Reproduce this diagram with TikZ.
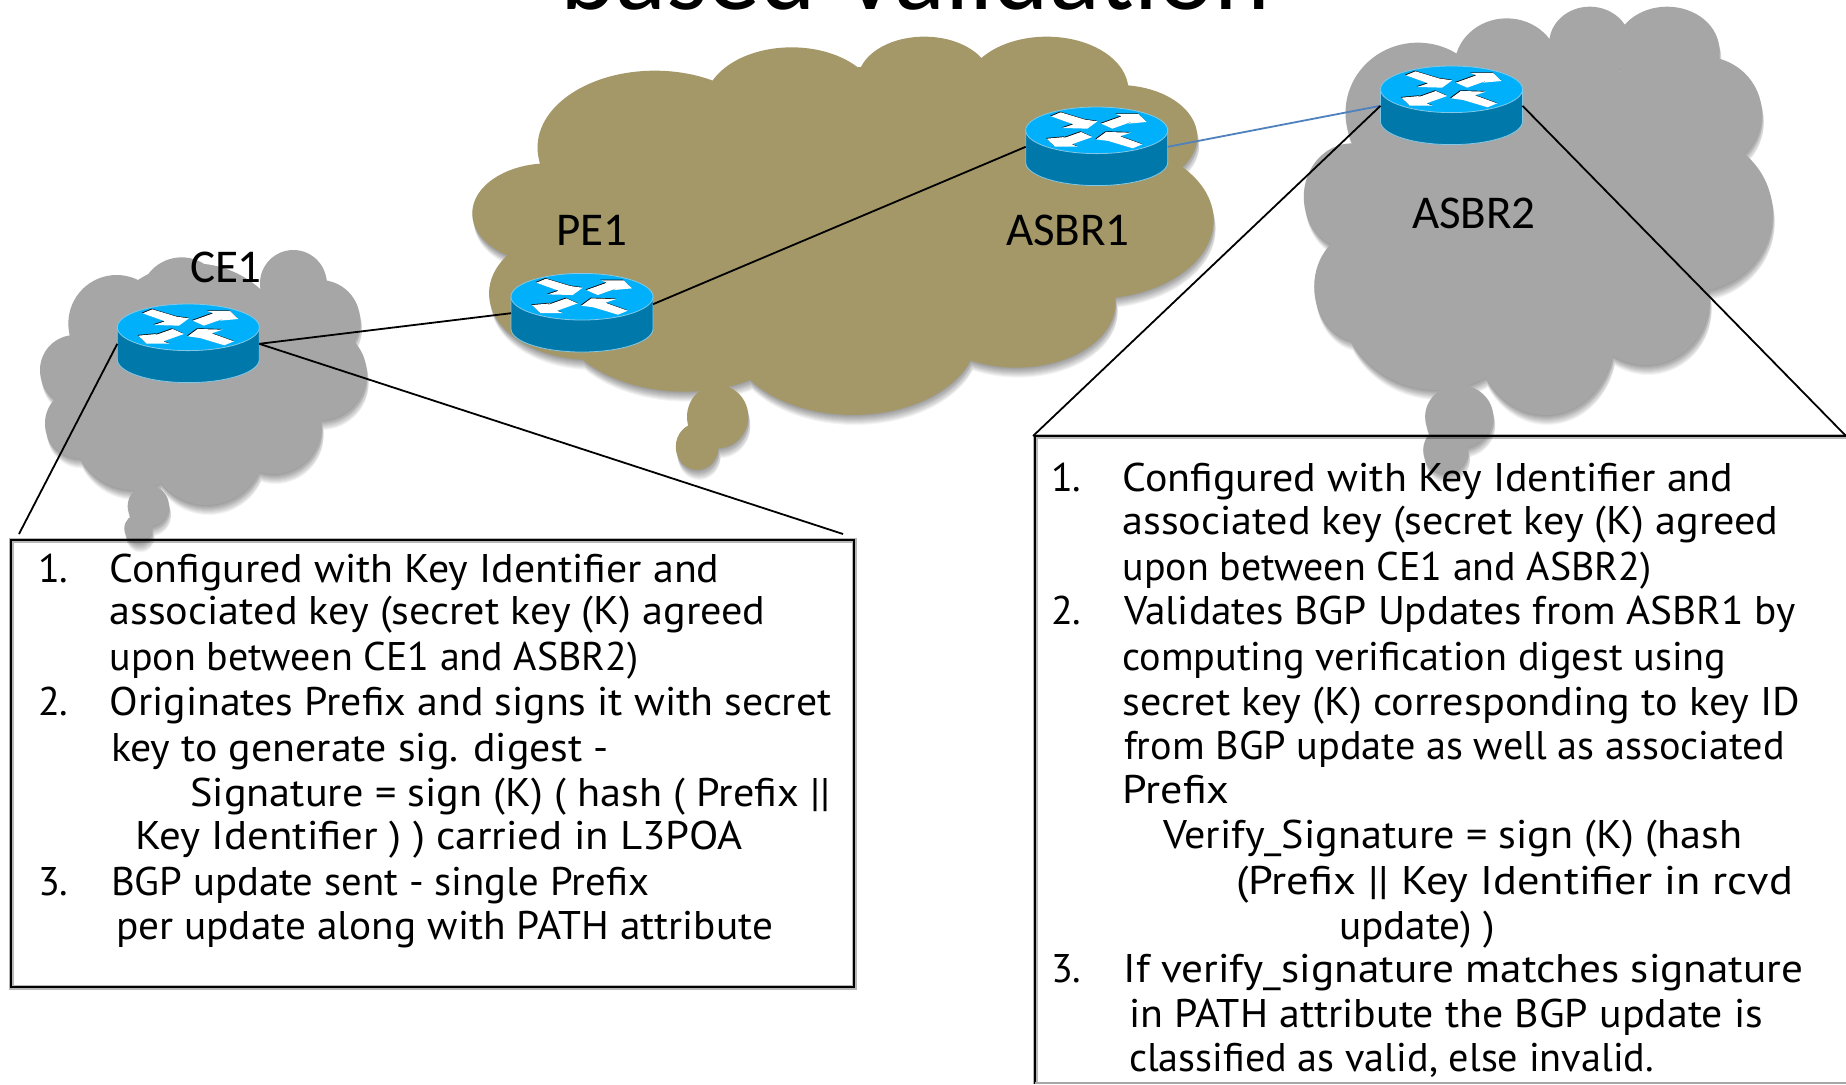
\documentclass[tikz,border=0pt]{standalone}
\usepackage{graphicx}
\usepackage{fontspec}
\setmainfont{PT Sans}
\newfontfamily\labelfont{Carlito}
\definecolor{cloudgray}{RGB}{166,166,166}
\definecolor{cloudolive}{RGB}{164,152,104}
\definecolor{routertop}{RGB}{0,176,250}
\definecolor{routerbody}{RGB}{0,120,170}
\definecolor{routeredge}{RGB}{130,200,230}
\definecolor{linkblue}{RGB}{79,129,189}
\newlength\tlw
\newcommand\cloudshape[3]{%
  \foreach \dx/\dy in {0/1,0/2,1/3,1/4,1/5,1/6,2/7,2/8,2/9,2/10}{%
    \begin{scope}[shift={(\dx,\dy)}]\begin{scope}[#1]
      \fill[black,fill opacity=.045] #2;
    \end{scope}\end{scope}}%
  \begin{scope}[#1]\fill[#3] #2;\end{scope}}
\newcommand\tl[5]{\setlength\tlw{#4pt}\tlw=0.5\tlw
  \node[bodytext] (#1) at (#2,#3) {\resizebox{\tlw}{\height}{#5}};}
\newcommand\num[4]{\node[bodytext] (#1) at (#2,#3) {#4};}
\newcommand\rarrow{(-137,-42) -- (-108,-54) -- (-35,-32) -- (2,-27) -- (-28,-5) -- (-103,-7) -- (-70,-18) -- cycle}
\newcommand\sarrow{(13,-20) -- (75,-42) -- (57,-49) -- (125,-49) -- (150,-25) -- (95,-20) -- (112,-28) -- (47,-5) -- cycle}
\tikzset{
  x=0.5pt,y=-0.5pt,
  bodytext/.style={anchor=base west,inner sep=0pt,outer sep=0pt,font=\fontsize{20pt}{22pt}\selectfont},
  rtrlabel/.style={anchor=base west,inner sep=0pt,outer sep=0pt,font=\labelfont\fontsize{23.5pt}{25pt}\selectfont},
  titletext/.style={anchor=base west,inner sep=0pt,outer sep=0pt,font=\labelfont\fontsize{53pt}{56pt}\selectfont},
  link/.style={black,line width=0.9pt},
  bluelink/.style={linkblue,line width=0.9pt},
  boxline/.style={black,line width=1.4pt},
  boxshade/.style={black,opacity=.08,line width=2.5pt},
  router/.pic={
    \fill[routerbody,draw=routeredge,line width=0.4pt] (-71,0) -- (-71,32) arc[start angle=180,end angle=0,x radius=71,y radius=23.3] -- (71,0) -- cycle;
    \fill[routertop,draw=routeredge,line width=0.4pt] (0,0) ellipse[x radius=71,y radius=23.3];
    \begin{scope}[scale=1/3]
      \fill[black,shift={(-2,-2)}] \rarrow; \fill[black,shift={(-2,-2)}] \sarrow;
      \fill[black,shift={(-2,-2)},rotate=180] \rarrow; \fill[black,shift={(-2,-2)},rotate=180] \sarrow;
      \fill[white] \rarrow; \fill[white] \sarrow;
      \begin{scope}[rotate=180]\fill[white] \rarrow; \fill[white] \sarrow;\end{scope}
    \end{scope}
    \coordinate (-l) at (-71,16.5);
    \coordinate (-r) at (71,16.5);
    \coordinate (-ru) at (71,7.5);
  }
}
\begin{document}
\begin{tikzpicture}
\useasboundingbox (0,0) rectangle (1846,1084);
\clip (0,0) rectangle (1846,1084);
\fill[white] (0,0) rectangle (1846,1084);
% clouds
\cloudshape{yscale=1/3,xscale=1/3,shift={(0,690)}}{
  (350,280) circle[radius=145] (545,207) circle[radius=125] (880,160) circle[radius=100]
  (960,270) circle[radius=120] (960,430) circle[radius=140] (820,587) circle[radius=145]
  (620,650) circle[radius=175] (400,600) circle[radius=180] (240,580) circle[radius=105]
  (225,420) circle[radius=105] (580,400) circle[radius=300]
  (445,828) circle[radius=62] (415,895) circle[radius=42]}{cloudgray}
\cloudshape{shift={(460,0)},xscale=0.5102,yscale=0.3333}{
  (382,442) circle[radius=230] (650,312) circle[radius=170] (910,240) circle[radius=130]
  (1150,270) circle[radius=160] (1290,410) circle[radius=155] (1240,660) circle[radius=237]
  (1090,908) circle[radius=195] (770,1000) circle[radius=245] (440,920) circle[radius=255]
  (257,880) circle[radius=200] (174,640) circle[radius=150] (750,650) circle[radius=450]
  (505,1250) ellipse[x radius=60,y radius=95] (465,1340) ellipse[x radius=42,y radius=70]}{cloudolive}
\cloudshape{shift={(1240,0)},xscale=0.3865,yscale=0.3333}{
  (460,338) ellipse[x radius=187,y radius=210] (690,200) ellipse[x radius=135,y radius=145]
  (905,130) ellipse[x radius=105,y radius=110] (1105,150) ellipse[x radius=135,y radius=130]
  (1200,340) ellipse[x radius=150,y radius=170] (1170,640) ellipse[x radius=208,y radius=235]
  (1050,900) ellipse[x radius=165,y radius=195] (790,1010) ellipse[x radius=180,y radius=235]
  (510,900) ellipse[x radius=250,y radius=270] (310,860) ellipse[x radius=118,y radius=165]
  (290,590) ellipse[x radius=125,y radius=160] (750,600) ellipse[x radius=450,y radius=450]
  (567,1250) ellipse[x radius=88,y radius=95] (532,1350) ellipse[x radius=58,y radius=70]}{cloudgray}
% title
\node[titletext] (title) at (560,9.5) {based Validation};
% boxes
\coordinate (lb1) at (11,540);
\coordinate (lb2) at (854,987);
\coordinate (rb0) at (1035,1084);
\coordinate (rb1) at (1035,436);
\coordinate (rb2) at (1846,436);
\foreach \o in {2,5,8,11}{
  \draw[boxshade,shift={(0,\o)}] (lb1) rectangle (lb2);
  \draw[boxshade,shift={(0,\o)}] (rb0) -- (rb1) -- (rb2);
}
\draw[boxline] (lb1) rectangle (lb2);
\draw[boxline] (rb0) -- (rb1) -- (rb2);
\draw[cloudgray,line width=0.6pt] (1035,1083) -- (1846,1083);
% routers
\pic (ce1) at (188.3,327.3) {router};
\pic (pe1) at (582,296.7) {router};
\pic (asbr1) at (1096.7,130.3) {router};
\pic (asbr2) at (1451.5,89.3) {router};
% callout end points
\coordinate (lbl) at (19,534);
\coordinate (lbr) at (843,534);
\coordinate (rbl) at (1033,436);
\coordinate (rbr) at (1846,436);
% connectors
\draw[link] (ce1-r) -- (pe1-l);
\draw[link] (pe1-ru) -- (asbr1-l);
\draw[bluelink] (asbr1-r) -- (asbr2-l);
\draw[link] (ce1-l) -- (lbl);
\draw[link] (ce1-r) -- (lbr);
\draw[link] (asbr2-l) -- (rbl);
\draw[link] (asbr2-r) -- (rbr);
% router labels
\node[rtrlabel] (lce1) at (190,282.5) {CE1};
\node[rtrlabel] (lpe1) at (556.5,245) {PE1};
\node[rtrlabel] (lasbr1) at (1006,245) {ASBR1};
\node[rtrlabel] (lasbr2) at (1412,228) {ASBR2};
% left box text
\num{a1}{38}{582.5}{1.}
\tl{a1t}{109.5}{582.5}{610}{Configured with Key Identifier and}
\tl{a2}{109.5}{624}{656}{associated key (secret key (K) agreed}
\tl{a3}{109.5}{670}{529}{upon between CE1 and ASBR2)}
\num{b1}{38}{715.5}{2.}
\tl{a4}{109.5}{715.5}{722}{Originates Prefix and signs it with secret}
\tl{a5}{111}{761}{498}{key  to generate sig. digest -}
\tl{a6}{190.5}{806}{640}{Signature = sign (K) ( hash ( Prefix ||}
\tl{a7}{135.5}{849}{607}{Key Identifier ) ) carried in L3POA}
\num{c1}{38}{895}{3.}
\tl{a8}{111}{895}{538}{BGP update sent - single Prefix}
\tl{a9}{116}{939}{657}{per update along with PATH attribute}
% right box text
\num{d1}{1051}{491.5}{1.}
\tl{r1}{1122.5}{491.5}{611}{Configured with Key Identifier and}
\tl{r2}{1122.5}{534}{656}{associated key (secret key (K) agreed}
\tl{r3}{1122.5}{580}{529}{upon between CE1 and ASBR2)}
\num{e1}{1051}{624.5}{2.}
\tl{r4}{1124}{624.5}{672}{Validates BGP Updates from ASBR1 by}
\tl{r5}{1122.5}{670.5}{604}{computing verification digest using}
\tl{r6}{1122.5}{715.5}{678}{secret key (K) corresponding to key ID}
\tl{r7}{1124}{759}{661}{from BGP update as well as associated}
\tl{r8}{1122.5}{803}{107}{Prefix}
\tl{r9}{1163}{848.5}{579}{Verify\_Signature = sign (K) (hash}
\tl{r10}{1236}{894}{557}{(Prefix || Key Identifier in rcvd}
\tl{r11}{1339}{939}{156}{update) )}
\num{f1}{1051}{982.5}{3.}
\tl{r12}{1123.5}{982.5}{680}{If verify\_signature  matches signature}
\tl{r13}{1129}{1027}{634}{in PATH attribute the BGP update is}
\tl{r14}{1129}{1071.5}{525}{classified as valid, else invalid.}
\end{tikzpicture}
\end{document}
